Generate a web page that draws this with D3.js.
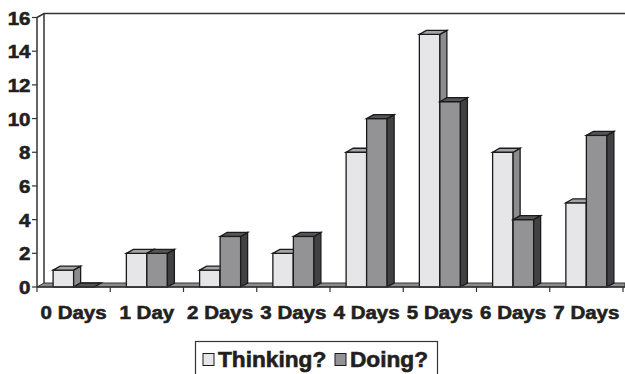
<!DOCTYPE html>
<html>
<head>
<meta charset="utf-8">
<script src="https://cdn.jsdelivr.net/npm/d3@7"></script>
<style>
  body { margin: 0; background: #fff; }
  text { font-family: "Liberation Sans", Arial, sans-serif; font-weight: bold; fill: #231f20;
         stroke: #231f20; stroke-width: 0.6px; }
</style>
</head>
<body>
<script>
// chart size
var w = 625;
var h = 374;

// data
var categories = ["0 Days", "1 Day", "2 Days", "3 Days", "4 Days", "5 Days", "6 Days", "7 Days"];
var seriesNames = ["Thinking?", "Doing?"];
var thinking = [1, 2, 1, 2, 8, 15, 8, 5];
var doing = [0, 2, 3, 3, 10, 11, 4, 9];
var yTicks = [0, 2, 4, 6, 8, 10, 12, 14, 16];

// plot area and 3d depth
var plotLeft = 37, plotRight = 623, plotTop = 17.5, plotBottom = 287;
var dx = 7, dy = -4;

// colours for front, top and side faces
var faces = {
  "Thinking?": { front: "#e6e6e8", top: "#a4a4a6", side: "#8c8c8e" },
  "Doing?": { front: "#939396", top: "#555557", side: "#414143" }
};

var svg = d3.select("body").append("svg")
  .attr("width", w)
  .attr("height", h);

var x0 = d3.scaleBand().domain(categories).range([plotLeft, plotRight]);
var x1 = d3.scaleBand().domain(seriesNames).range([0, x0.bandwidth()]).paddingOuter(0.786);
var y = d3.scaleLinear().domain([0, 16]).range([plotBottom, plotTop]);

// back wall outline
svg.append("path")
  .attr("d", "M" + plotLeft + "," + y(16) + "L" + (plotLeft + dx) + "," + (y(16) + dy) +
             "L" + w + "," + (y(16) + dy))
  .attr("fill", "none").attr("stroke", "#333").attr("stroke-width", 1.5);
svg.append("line")
  .attr("x1", plotLeft + dx).attr("x2", plotLeft + dx)
  .attr("y1", y(16) + dy).attr("y2", plotBottom + dy)
  .attr("stroke", "#333").attr("stroke-width", 1.5);

// floor
svg.append("path")
  .attr("d", "M" + plotLeft + "," + plotBottom + "L" + (plotLeft + dx) + "," + (plotBottom + dy) +
             "L" + w + "," + (plotBottom + dy) + "L" + w + "," + plotBottom + "Z")
  .attr("fill", "#8c8c8e").attr("stroke", "#333").attr("stroke-width", 1);

// bars as 3d boxes
function box(g, x, wd, yTop, c) {
  var yb = plotBottom;
  if (yb - yTop > 0.5) {
    g.append("rect").attr("x", x).attr("y", yTop).attr("width", wd).attr("height", yb - yTop)
      .attr("fill", c.front).attr("stroke", "#1a1a1a").attr("stroke-width", 1.3);
    // side
    g.append("path")
      .attr("d", "M" + (x + wd) + "," + yb + "L" + (x + wd) + "," + yTop +
                 "L" + (x + wd + dx) + "," + (yTop + dy) + "L" + (x + wd + dx) + "," + (yb + dy) + "Z")
      .attr("fill", c.side).attr("stroke", "#1a1a1a").attr("stroke-width", 1.3);
  }
  // top
  g.append("path")
    .attr("d", "M" + x + "," + yTop + "L" + (x + dx) + "," + (yTop + dy) +
               "L" + (x + wd + dx) + "," + (yTop + dy) + "L" + (x + wd) + "," + yTop + "Z")
    .attr("fill", c.top).attr("stroke", "#1a1a1a").attr("stroke-width", 1.3);
}

var bars = svg.append("g");
categories.forEach(function(cat, i) {
  var vals = [thinking[i], doing[i]];
  seriesNames.forEach(function(s, j) {
    box(bars, x0(cat) + x1(s), x1.bandwidth(), y(vals[j]), faces[s]);
  });
});

// y axis
var yAxis = svg.append("g");
yAxis.append("line").attr("x1", plotLeft).attr("x2", plotLeft).attr("y1", y(16)).attr("y2", plotBottom)
  .attr("stroke", "#333").attr("stroke-width", 1.5);
yTicks.forEach(function(t) {
  yAxis.append("line").attr("x1", plotLeft - 5).attr("x2", plotLeft).attr("y1", y(t)).attr("y2", y(t))
    .attr("stroke", "#333").attr("stroke-width", 1.2);
  yAxis.append("text")
    .attr("transform", "translate(" + (plotLeft - 6.5) + "," + (y(t) + 7) + ") scale(1.08,1)")
    .attr("text-anchor", "end")
    .style("font-size", "19px")
    .text(t);
});

// x axis
var xAxis = svg.append("g");
xAxis.append("line").attr("x1", plotLeft).attr("x2", w).attr("y1", plotBottom).attr("y2", plotBottom)
  .attr("stroke", "#333").attr("stroke-width", 1.5);
d3.range(categories.length + 1).forEach(function(i) {
  var xt = plotLeft + i * x0.step();
  xAxis.append("line").attr("x1", xt).attr("x2", xt).attr("y1", plotBottom).attr("y2", plotBottom + 5)
    .attr("stroke", "#333").attr("stroke-width", 1.2);
});
categories.forEach(function(cat) {
  xAxis.append("text")
    .attr("transform", "translate(" + (x0(cat) + x0.bandwidth() / 2) + ",318.5) scale(1.08,1)")
    .attr("text-anchor", "middle")
    .style("font-size", "19px")
    .text(cat);
});

// legend
var lg = svg.append("g");
lg.append("rect").attr("x", 195.5).attr("y", 341.5).attr("width", 242).attr("height", 50)
  .attr("fill", "#fff").attr("stroke", "#333").attr("stroke-width", 1.2);
var legendX = [203, 335];
seriesNames.forEach(function(s, j) {
  lg.append("rect").attr("x", legendX[j]).attr("y", 353.5).attr("width", 11).attr("height", 12)
    .attr("fill", faces[s].front).attr("stroke", "#1a1a1a").attr("stroke-width", 1);
  lg.append("text")
    .attr("transform", "translate(" + (legendX[j] + 15) + ",366.5) scale(1.05,1)")
    .style("font-size", "21.6px")
    .text(s);
});
</script>
</body>
</html>
